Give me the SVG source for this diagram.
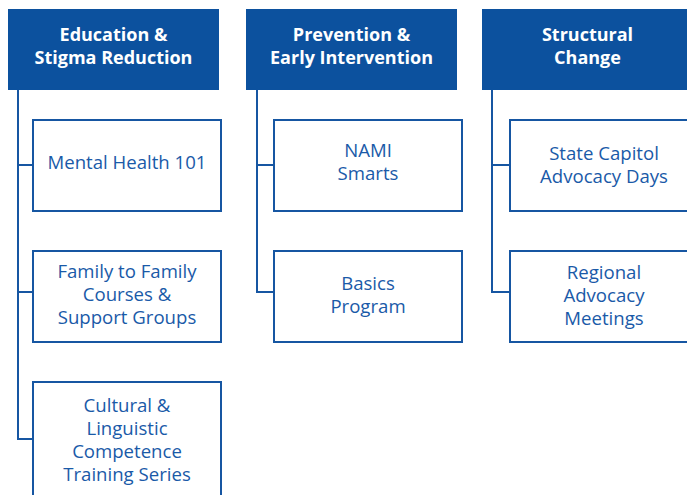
<svg xmlns="http://www.w3.org/2000/svg" width="687" height="495" viewBox="0 0 687 495">
  <style>
    .hdr { fill: #0c519e; }
    .hdr-t { fill: #ffffff; font-family: "Open Sans", "Liberation Sans", sans-serif; font-weight: 700; font-size: 18px; text-anchor: middle; }
    .box { fill: #ffffff; stroke: #1656a2; stroke-width: 2; }
    .box-t { fill: #1a5aa8; font-family: "Open Sans", "Liberation Sans", sans-serif; font-size: 18.6px; text-anchor: middle; }
    .conn { fill: none; stroke: #1656a2; stroke-width: 2; }
  </style>

  <!-- tree connectors -->
  <g id="connectors">
    <path class="conn" d="M18 90 V439 H33 M18 165 H33 M18 292 H33"/>
    <path class="conn" d="M257 90 V292 H274 M257 165 H274"/>
    <path class="conn" d="M492 90 V292 H510 M492 165 H510"/>
  </g>

  <!-- column 1 -->
  <g id="hdr-education">
    <rect class="hdr" x="8" y="9" width="211" height="81"/>
    <text class="hdr-t" x="113.5" y="41">Education &amp;</text>
    <text class="hdr-t" x="113.5" y="64">Stigma Reduction</text>
  </g>
  <g id="mental-health-101">
    <rect class="box" x="33" y="120" width="188" height="91"/>
    <text class="box-t" x="127" y="169">Mental Health 101</text>
  </g>
  <g id="family-to-family">
    <rect class="box" x="33" y="251" width="188" height="91"/>
    <text class="box-t" x="127" y="278">Family to Family</text>
    <text class="box-t" x="127" y="301">Courses &amp;</text>
    <text class="box-t" x="127" y="324">Support Groups</text>
  </g>
  <g id="cultural-linguistic">
    <rect class="box" x="33" y="382" width="188" height="130"/>
    <text class="box-t" x="127" y="412">Cultural &amp;</text>
    <text class="box-t" x="127" y="435">Linguistic</text>
    <text class="box-t" x="127" y="458">Competence</text>
    <text class="box-t" x="127" y="481">Training Series</text>
  </g>

  <!-- column 2 -->
  <g id="hdr-prevention">
    <rect class="hdr" x="246" y="9" width="211" height="81"/>
    <text class="hdr-t" x="351.5" y="41">Prevention &amp;</text>
    <text class="hdr-t" x="351.5" y="64">Early Intervention</text>
  </g>
  <g id="nami-smarts">
    <rect class="box" x="274" y="120" width="188" height="91"/>
    <text class="box-t" x="368" y="157">NAMI</text>
    <text class="box-t" x="368" y="180">Smarts</text>
  </g>
  <g id="basics-program">
    <rect class="box" x="274" y="251" width="188" height="91"/>
    <text class="box-t" x="368" y="290">Basics</text>
    <text class="box-t" x="368" y="313">Program</text>
  </g>

  <!-- column 3 -->
  <g id="hdr-structural">
    <rect class="hdr" x="482" y="9" width="211" height="81"/>
    <text class="hdr-t" x="587.5" y="41">Structural</text>
    <text class="hdr-t" x="587.5" y="64">Change</text>
  </g>
  <g id="state-capitol">
    <rect class="box" x="510" y="120" width="188" height="91"/>
    <text class="box-t" x="604" y="160">State Capitol</text>
    <text class="box-t" x="604" y="183">Advocacy Days</text>
  </g>
  <g id="regional-advocacy">
    <rect class="box" x="510" y="251" width="188" height="91"/>
    <text class="box-t" x="604" y="279">Regional</text>
    <text class="box-t" x="604" y="302">Advocacy</text>
    <text class="box-t" x="604" y="325">Meetings</text>
  </g>
</svg>
